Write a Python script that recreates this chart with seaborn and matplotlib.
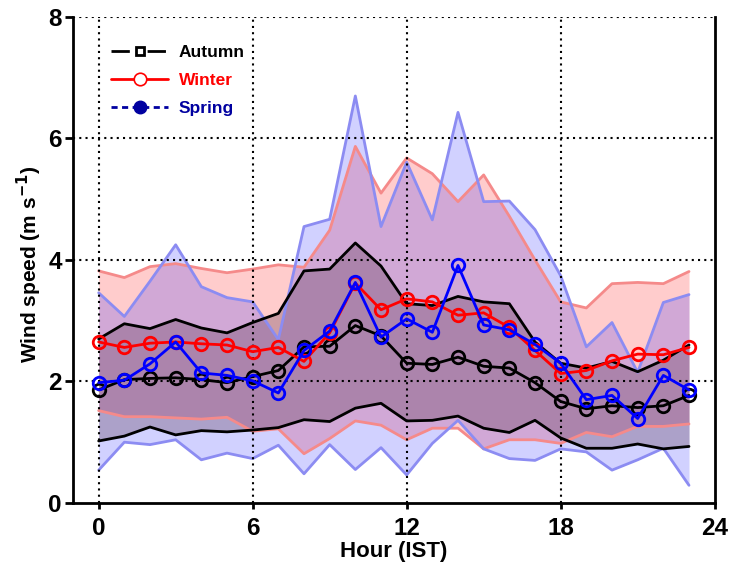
import numpy as np
import pandas as pd
import seaborn as sns
import matplotlib.pyplot as plt
from matplotlib.lines import Line2D

hours = list(range(24))

autumn_mean = [1.86, 2.03, 2.05, 2.06, 2.03, 1.98, 2.08, 2.18, 2.57, 2.58, 2.92, 2.75,
               2.30, 2.28, 2.40, 2.25, 2.22, 1.98, 1.67, 1.55, 1.60, 1.57, 1.60, 1.77]
autumn_upper = [2.70, 2.95, 2.87, 3.02, 2.88, 2.80, 2.97, 3.12, 3.82, 3.85, 4.28, 3.90,
                3.28, 3.25, 3.40, 3.31, 3.28, 2.65, 2.30, 2.22, 2.33, 2.16, 2.35, 2.60]
autumn_lower = [1.02, 1.10, 1.25, 1.12, 1.19, 1.17, 1.20, 1.24, 1.37, 1.34, 1.56, 1.64,
                1.35, 1.36, 1.43, 1.23, 1.16, 1.36, 1.07, 0.90, 0.90, 0.97, 0.89, 0.93]

winter_mean = [2.65, 2.56, 2.63, 2.65, 2.62, 2.60, 2.49, 2.56, 2.33, 2.80, 3.62, 3.18,
               3.36, 3.31, 3.09, 3.13, 2.89, 2.51, 2.13, 2.18, 2.34, 2.45, 2.44, 2.56]
winter_upper = [3.82, 3.71, 3.89, 3.94, 3.86, 3.79, 3.85, 3.92, 3.88, 4.49, 5.87, 5.10,
                5.68, 5.42, 4.96, 5.40, 4.72, 4.00, 3.31, 3.21, 3.61, 3.63, 3.61, 3.81]
winter_lower = [1.52, 1.42, 1.42, 1.40, 1.38, 1.41, 1.18, 1.22, 0.81, 1.06, 1.35, 1.28,
                1.04, 1.23, 1.23, 0.89, 1.04, 1.04, 0.98, 1.16, 1.09, 1.26, 1.26, 1.30]

spring_mean = [1.98, 2.02, 2.29, 2.65, 2.14, 2.10, 2.01, 1.81, 2.51, 2.83, 3.63, 2.73,
               3.03, 2.81, 3.91, 2.93, 2.85, 2.61, 2.30, 1.70, 1.77, 1.39, 2.10, 1.86]
spring_upper = [3.46, 3.07, 3.65, 4.25, 3.56, 3.38, 3.31, 2.69, 4.55, 4.67, 6.70, 4.55,
                5.61, 4.66, 6.43, 4.96, 4.97, 4.50, 3.74, 2.57, 2.97, 2.15, 3.30, 3.43]
spring_lower = [0.54, 1.00, 0.96, 1.04, 0.71, 0.82, 0.73, 0.95, 0.48, 0.96, 0.55, 0.91,
                0.46, 0.98, 1.36, 0.89, 0.73, 0.70, 0.89, 0.84, 0.54, 0.71, 0.90, 0.29]

seasons = ['Autumn', 'Winter', 'Spring']

df = pd.DataFrame({
    'hour': hours * 3,
    'mean': autumn_mean + winter_mean + spring_mean,
    'upper': autumn_upper + winter_upper + spring_upper,
    'lower': autumn_lower + winter_lower + spring_lower,
    'season': ['Autumn'] * 24 + ['Winter'] * 24 + ['Spring'] * 24,
})

sns.set_style('ticks')
plt.rcParams['font.family'] = ['Liberation Sans', 'DejaVu Sans']
plt.rcParams['font.weight'] = 'bold'
plt.rcParams['mathtext.default'] = 'bf'
plt.rcParams['text.color'] = 'black'
plt.rcParams['axes.labelcolor'] = 'black'
plt.rcParams['xtick.color'] = 'black'
plt.rcParams['ytick.color'] = 'black'
plt.rcParams['axes.edgecolor'] = 'black'

fig = plt.figure(figsize=(7.33, 5.67), dpi=100)
ax = fig.add_axes([0.0996, 0.113, 0.8754, 0.857])

line_col = {'Autumn': 'black', 'Winter': '#ff0000', 'Spring': '#0000ff'}
fill_col = {'Autumn': (0.35, 0.2, 0.3, 0.3), 'Winter': (1.0, 0.0, 0.0, 0.2),
            'Spring': (0.1, 0.1, 1.0, 0.2)}
edge_col = {'Autumn': 'black', 'Winter': '#f58a8a', 'Spring': '#8c8cf2'}

for s in ['Winter', 'Spring', 'Autumn']:
    d = df[df['season'] == s]
    ax.fill_between(d['hour'], d['lower'], d['upper'], color=fill_col[s], lw=0, zorder=1)
    sns.lineplot(data=d, x='hour', y='upper', color=edge_col[s], lw=2, ax=ax, zorder=2)
    sns.lineplot(data=d, x='hour', y='lower', color=edge_col[s], lw=2, ax=ax, zorder=2)

for s in ['Autumn', 'Winter', 'Spring']:
    d = df[df['season'] == s]
    sns.lineplot(data=d, x='hour', y='mean', color=line_col[s], lw=2, marker='o',
                 markersize=9, markerfacecolor='none', markeredgecolor=line_col[s],
                 markeredgewidth=2, ax=ax, zorder=4)

ax.set_xlim(-1, 24)
ax.set_ylim(0, 8)
ax.set_xticks([0, 6, 12, 18, 24])
ax.set_yticks([0, 2, 4, 6, 8])
for x in [0, 6, 12, 18]:
    ax.axvline(x, color='black', ls=(0, (1, 2)), lw=1.5, zorder=3)
for y in [2, 4, 6, 8]:
    ax.axhline(y, color='black', ls=(0, (1, 2)), lw=1.5, zorder=3)

ax.spines['top'].set_visible(False)
for sp in ['left', 'bottom', 'right']:
    ax.spines[sp].set_linewidth(2)
ax.tick_params(axis='both', width=2, labelsize=17.5)
ax.tick_params(axis='x', length=4, pad=6)
ax.tick_params(axis='y', length=6, pad=2)
for lab in ax.get_xticklabels() + ax.get_yticklabels():
    lab.set_fontweight('bold')

ax.set_xlabel('Hour (IST)', fontsize=16, fontweight='bold')
ax.set_ylabel('Wind speed (m s$^{\\mathsf{-1}}$)', fontsize=15, fontweight='bold')
ax.xaxis.set_label_coords(0.5, -0.079)
ax.yaxis.set_label_coords(-0.045, 0.49)

handles = [
    Line2D([], [], color='black', lw=2, ls=(0, (6.6, 6.4)), marker='s', markersize=5.5,
           markerfacecolor='white', markeredgecolor='black', markeredgewidth=2),
    Line2D([], [], color='#ff0000', lw=2, marker='o', markersize=9, markerfacecolor='white',
           markeredgecolor='#ff0000', markeredgewidth=1.2),
    Line2D([], [], color='#0000a0', lw=2, ls=(0, (2.2, 1.6)), marker='o', markersize=9,
           markerfacecolor='#0000a0', markeredgecolor='#0000a0'),
]
leg = ax.legend(handles, seasons, loc='upper left', bbox_to_anchor=(0.035, 0.975),
                frameon=False, fontsize=12.5, handlelength=3.3, labelspacing=0.75,
                handletextpad=0.6)
for t, c in zip(leg.get_texts(), ['black', '#ff0000', '#0000a0']):
    t.set_color(c)
    t.set_fontweight('bold')

fig.savefig('out.png', dpi=100)
